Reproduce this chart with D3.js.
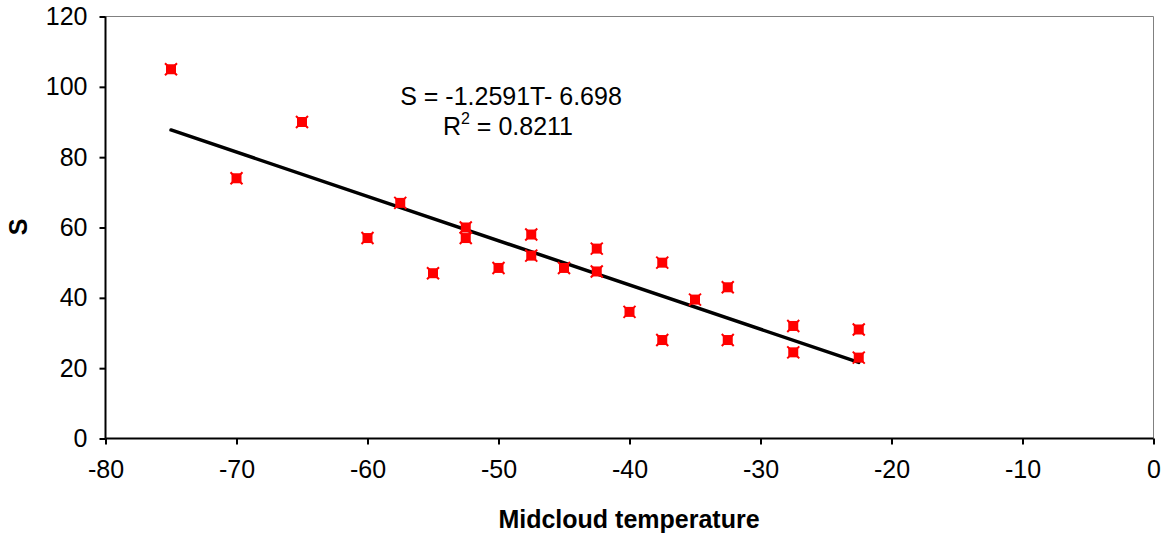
<!DOCTYPE html>
<html>
<head>
<meta charset="utf-8">
<script src="https://cdn.jsdelivr.net/npm/d3@7/dist/d3.min.js"></script>
<style>
  html, body { margin: 0; padding: 0; background: #fff; }
  svg { display: block; font-family: Arial, "Liberation Sans", sans-serif; }
</style>
</head>
<body>
<svg id="chart" width="1161" height="535"></svg>
<script>
// Midcloud temperature (°C) and S for each observation
const temperature = [-75, -70, -65, -60, -57.5, -55, -52.5, -52.5, -50, -47.5, -47.5, -45,
                     -42.5, -42.5, -40, -37.5, -37.5, -35, -32.5, -32.5, -27.5, -27.5, -22.5, -22.5];
const sValues     = [105, 74, 90, 57, 67, 47, 60, 57, 48.5, 58, 52, 48.5,
                     54, 47.5, 36, 50, 28, 39.5, 43, 28, 32, 24.5, 31, 23];

// Linear fit S = slope*T + intercept
const slope = -1.2591;
const intercept = -6.698;
const rSquared = 0.8211;

const xTicks = [-80, -70, -60, -50, -40, -30, -20, -10, 0];
const yTicks = [0, 20, 40, 60, 80, 100, 120];

const svg = d3.select("#chart");
const plotLeft = 105.5, plotRight = 1153.5, plotTop = 16.5, plotBottom = 438.5;

const x = d3.scaleLinear().domain([-80, 0]).range([plotLeft, plotRight]);
const y = d3.scaleLinear().domain([0, 120]).range([plotBottom, plotTop]);

// plot frame (top and right edges)
svg.append("path")
  .attr("d", `M${plotLeft},${plotTop}H${plotRight}V${plotBottom}`)
  .attr("fill", "none").attr("stroke", "#808080").attr("stroke-width", 1);

// axes
const fontSize = 25;
const yAxis = svg.append("g").attr("transform", `translate(${plotLeft},0)`)
  .call(d3.axisLeft(y).tickValues(yTicks).tickSize(6).tickPadding(12).tickFormat(d3.format("d")));
const xAxis = svg.append("g").attr("transform", `translate(0,${plotBottom})`)
  .call(d3.axisBottom(x).tickValues(xTicks).tickSize(6).tickPadding(16).tickFormat(d => String(d)));

[yAxis, xAxis].forEach(g => {
  g.select(".domain").attr("stroke", "#000").attr("stroke-width", 2);
  g.selectAll(".tick line").attr("stroke", "#000").attr("stroke-width", 2);
  g.selectAll(".tick text").attr("fill", "#000").attr("font-size", fontSize)
    .attr("font-family", "Arial, 'Liberation Sans', sans-serif");
});
yAxis.select(".domain").attr("d", `M0,${plotTop}V${plotBottom}`);
xAxis.select(".domain").attr("d", `M${plotLeft},0H${plotRight}`);

// trendline across the observed temperature range
const tExtent = d3.extent(temperature);
const fit = t => slope * t + intercept;
svg.append("line")
  .attr("x1", x(tExtent[0])).attr("y1", y(fit(tExtent[0])))
  .attr("x2", x(tExtent[1])).attr("y2", y(fit(tExtent[1])))
  .attr("stroke", "#000").attr("stroke-width", 3.5).attr("stroke-linecap", "round");

// markers: filled square with a cross
const pts = temperature.map((t, i) => ({ t, s: sValues[i] }));
const marks = svg.append("g").selectAll("g").data(pts).join("g")
  .attr("transform", d => `translate(${x(d.t)},${y(d.s)})`);
marks.append("rect").attr("x", -5).attr("y", -5).attr("width", 10).attr("height", 10).attr("fill", "#ff0000");
marks.append("path").attr("d", "M-6,-6L6,6M-6,6L6,-6")
  .attr("stroke", "#ff0000").attr("stroke-width", 2).attr("fill", "none");

// equation labels
svg.append("text").attr("x", 511).attr("y", 105).attr("text-anchor", "middle")
  .attr("font-size", fontSize).attr("fill", "#000")
  .text(`S = ${slope}T- ${Math.abs(intercept)}`);
const r2 = svg.append("text").attr("x", 508).attr("y", 135).attr("text-anchor", "middle")
  .attr("font-size", fontSize).attr("fill", "#000");
r2.append("tspan").text("R");
r2.append("tspan").attr("font-size", 16).attr("dy", -11).text("2");
r2.append("tspan").attr("dy", 11).text(` = ${rSquared}`);

// axis titles
svg.append("text").attr("x", 629).attr("y", 528).attr("text-anchor", "middle")
  .attr("font-size", fontSize).attr("font-weight", "bold").attr("fill", "#000")
  .text("Midcloud temperature");
svg.append("text").attr("transform", "translate(27,227) rotate(-90)").attr("text-anchor", "middle")
  .attr("font-size", fontSize).attr("font-weight", "bold").attr("fill", "#000")
  .text("S");
</script>
</body>
</html>
